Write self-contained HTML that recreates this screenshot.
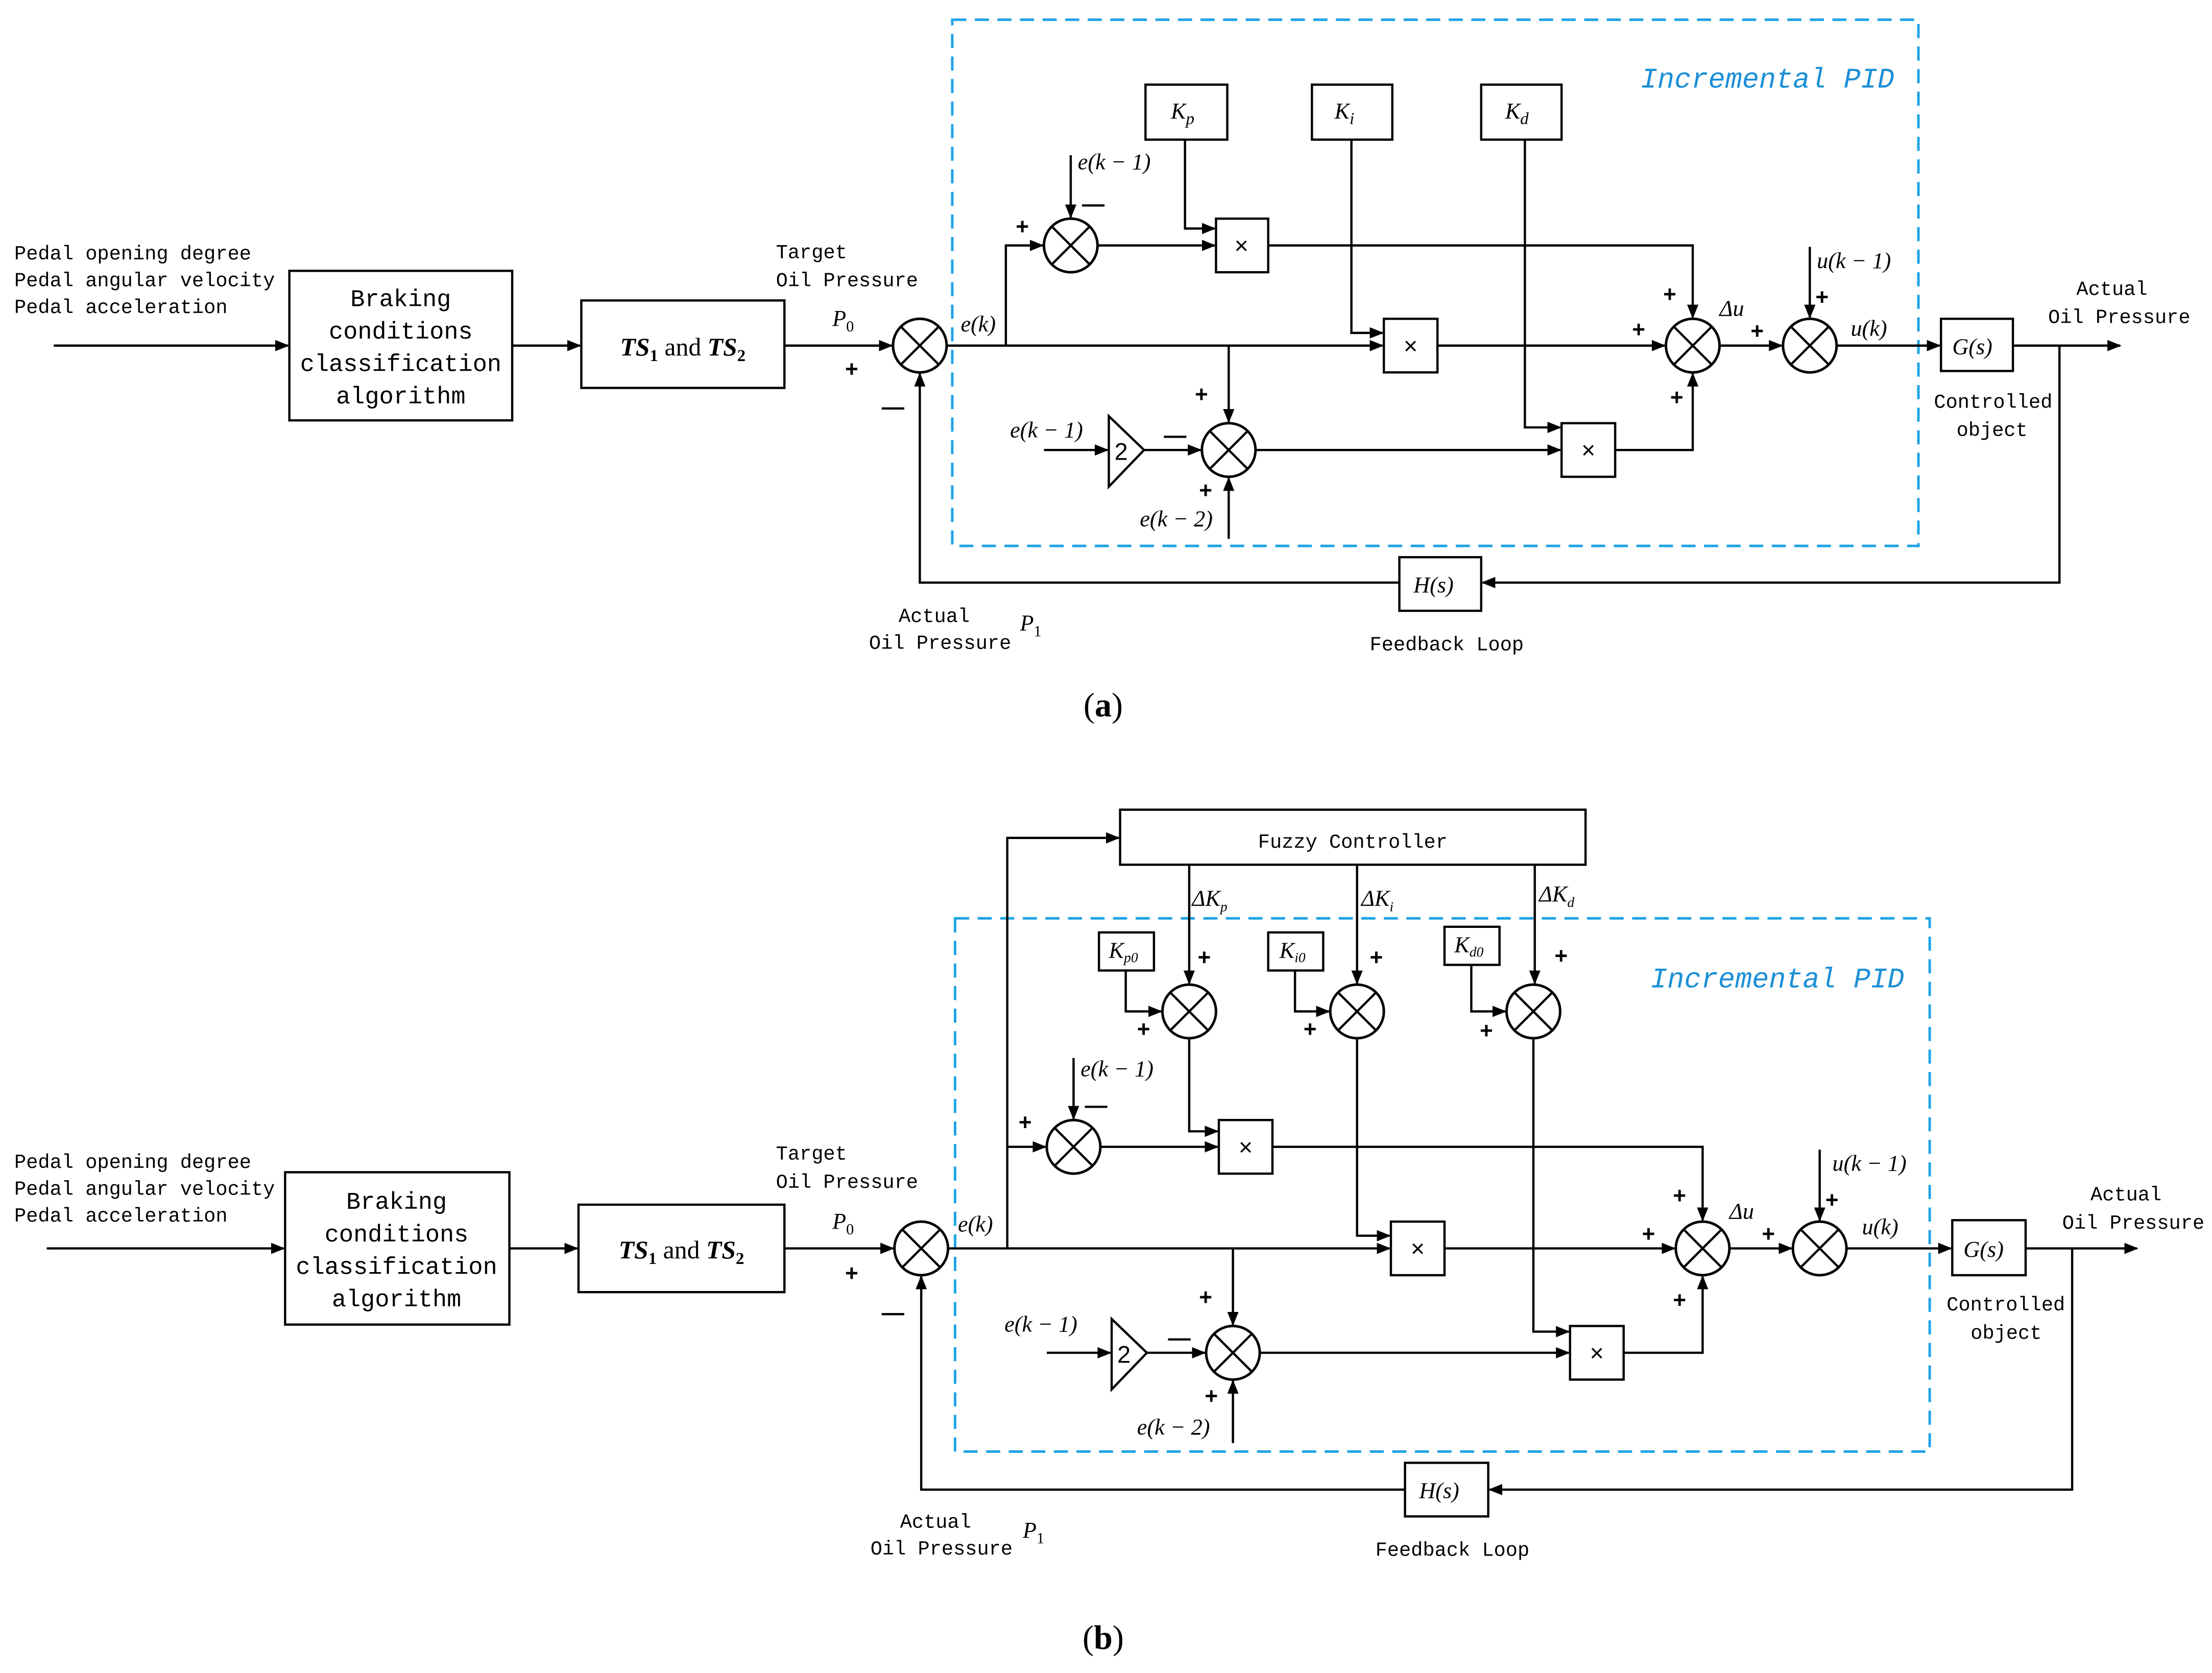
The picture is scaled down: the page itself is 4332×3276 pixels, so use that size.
<!DOCTYPE html>
<html><head><meta charset="utf-8"><style>
html,body{margin:0;padding:0;background:#fff}
svg{display:block}
.m{font-family:"Liberation Mono",monospace;font-size:14px}
.s{font-family:"Liberation Mono",monospace;font-size:17px}
.i{font-family:"Liberation Serif",serif;font-style:italic;font-size:16px}
.p{font-family:"Liberation Sans",sans-serif;font-size:16px;font-weight:bold}
.b{font-family:"Liberation Mono",monospace;font-style:italic;font-size:20px;fill:#1b8fd6}
</style></head><body>
<svg width="4332" height="3276" viewBox="0 0 1568 1186" xmlns="http://www.w3.org/2000/svg">
<defs>
<marker id="a" markerWidth="10" markerHeight="8" refX="9" refY="4" orient="auto" markerUnits="userSpaceOnUse"><path d="M0,0 L10,4 L0,8 z" fill="#000"/></marker>
<g id="c"><circle r="19" fill="#fff" stroke="#000" stroke-width="1.8"/><path d="M-13.4,-13.4 L13.4,13.4 M-13.4,13.4 L13.4,-13.4" stroke="#000" stroke-width="1.6"/></g>
</defs>
<rect width="1568" height="1186" fill="#fff"/>
<g fill="none" stroke="#000" stroke-width="1.6">
<path d="M38,245 H204" marker-end="url(#a)"/>
<rect x="205" y="192" width="158" height="106"/>
<path d="M363,245 H411" marker-end="url(#a)"/>
<rect x="412" y="213" width="144" height="62"/>
<path d="M556,245 H632" marker-end="url(#a)"/>
<rect x="675" y="14" width="685" height="373" stroke="#1fa3e6" stroke-dasharray="10,6" stroke-width="1.8"/>
<path d="M671,245 H980" marker-end="url(#a)"/>
<path d="M713,245 V174 H739" marker-end="url(#a)"/>
<path d="M759,110 V154" marker-end="url(#a)"/>
<path d="M778,174 H861" marker-end="url(#a)"/>
<rect x="812" y="60" width="58" height="39"/>
<rect x="930" y="60" width="57" height="39"/>
<rect x="1050" y="60" width="57" height="39"/>
<rect x="862" y="155" width="37" height="38"/>
<rect x="981" y="226" width="38" height="38"/>
<rect x="1107" y="300" width="38" height="38"/>
<path d="M840,99 V162 H861" marker-end="url(#a)"/>
<path d="M958,99 V236 H980" marker-end="url(#a)"/>
<path d="M1081,99 V303 H1106" marker-end="url(#a)"/>
<path d="M899,174 H1200 V225" marker-end="url(#a)"/>
<path d="M1019,245 H1180" marker-end="url(#a)"/>
<path d="M871,245 V299" marker-end="url(#a)"/>
<path d="M740,319 H785" marker-end="url(#a)"/>
<path d="M786,295 V345 L811,319 Z"/>
<path d="M811,319 H851" marker-end="url(#a)"/>
<path d="M871,382 V339" marker-end="url(#a)"/>
<path d="M890,319 H1106" marker-end="url(#a)"/>
<path d="M1145,319 H1200 V265" marker-end="url(#a)"/>
<path d="M1219,245 H1263" marker-end="url(#a)"/>
<path d="M1283,175 V225" marker-end="url(#a)"/>
<path d="M1302,245 H1375" marker-end="url(#a)"/>
<rect x="1376" y="226" width="51" height="37"/>
<path d="M1427,245 H1503" marker-end="url(#a)"/>
<path d="M1460,245 V413 H1051" marker-end="url(#a)"/>
<rect x="992" y="395" width="58" height="38"/>
<path d="M992,413 H652 V265" marker-end="url(#a)"/>
<path d="M33,885 H201" marker-end="url(#a)"/>
<rect x="202" y="831" width="159" height="108"/>
<path d="M361,885 H409" marker-end="url(#a)"/>
<rect x="410" y="854" width="146" height="62"/>
<path d="M556,885 H633" marker-end="url(#a)"/>
<rect x="794" y="574" width="330" height="39"/>
<rect x="677" y="651" width="691" height="378" stroke="#1fa3e6" stroke-dasharray="10,6" stroke-width="1.8"/>
<path d="M672,885 H985" marker-end="url(#a)"/>
<path d="M714,885 V594 H793" marker-end="url(#a)"/>
<path d="M843,613 V697" marker-end="url(#a)"/>
<path d="M962,613 V697" marker-end="url(#a)"/>
<path d="M1088,613 V697" marker-end="url(#a)"/>
<rect x="779" y="661" width="39" height="27"/>
<rect x="899" y="661" width="39" height="27"/>
<rect x="1024" y="657" width="39" height="27"/>
<path d="M798,688 V717 H823" marker-end="url(#a)"/>
<path d="M918,688 V717 H942" marker-end="url(#a)"/>
<path d="M1043,684 V717 H1067" marker-end="url(#a)"/>
<path d="M714,813 H741" marker-end="url(#a)"/>
<path d="M761,750 V793" marker-end="url(#a)"/>
<path d="M780,813 H863" marker-end="url(#a)"/>
<rect x="864" y="794" width="38" height="38"/>
<path d="M843,736 V802 H863" marker-end="url(#a)"/>
<path d="M902,813 H1207 V865" marker-end="url(#a)"/>
<rect x="986" y="866" width="38" height="38"/>
<path d="M962,736 V876 H985" marker-end="url(#a)"/>
<path d="M1024,885 H1187" marker-end="url(#a)"/>
<path d="M874,885 V939" marker-end="url(#a)"/>
<path d="M742,959 H787" marker-end="url(#a)"/>
<path d="M788,935 V985 L813,959 Z"/>
<path d="M813,959 H854" marker-end="url(#a)"/>
<path d="M874,1023 V979" marker-end="url(#a)"/>
<path d="M893,959 H1112" marker-end="url(#a)"/>
<rect x="1113" y="940" width="38" height="38"/>
<path d="M1087,736 V944 H1112" marker-end="url(#a)"/>
<path d="M1151,959 H1207 V905" marker-end="url(#a)"/>
<path d="M1226,885 H1270" marker-end="url(#a)"/>
<path d="M1290,815 V865" marker-end="url(#a)"/>
<path d="M1309,885 H1383" marker-end="url(#a)"/>
<rect x="1384" y="865" width="52" height="39"/>
<path d="M1436,885 H1515" marker-end="url(#a)"/>
<path d="M1469,885 V1056 H1056" marker-end="url(#a)"/>
<rect x="996" y="1037" width="59" height="38"/>
<path d="M996,1056 H653 V905" marker-end="url(#a)"/>
</g>
<use href="#c" x="652" y="245"/><use href="#c" x="759" y="174"/><use href="#c" x="871" y="319"/>
<use href="#c" x="1200" y="245"/><use href="#c" x="1283" y="245"/>
<use href="#c" x="653" y="885"/><use href="#c" x="761" y="813"/><use href="#c" x="874" y="959"/>
<use href="#c" x="843" y="717"/><use href="#c" x="962" y="717"/><use href="#c" x="1087" y="717"/>
<use href="#c" x="1207" y="885"/><use href="#c" x="1290" y="885"/>
<g fill="#000">
<text class="m" x="10" y="184">Pedal opening degree</text>
<text class="m" x="10" y="203">Pedal angular velocity</text>
<text class="m" x="10" y="222">Pedal acceleration</text>
<g class="s" text-anchor="middle"><text x="284" y="217">Braking</text><text x="284" y="240">conditions</text><text x="284" y="263">classification</text><text x="284" y="286">algorithm</text></g>
<text x="484" y="252" text-anchor="middle" font-family="Liberation Serif" font-size="18"><tspan font-weight="bold" font-style="italic">TS</tspan><tspan font-size="12" dy="4" font-weight="bold">1</tspan><tspan dy="-4"> and </tspan><tspan font-weight="bold" font-style="italic">TS</tspan><tspan font-size="12" dy="4" font-weight="bold">2</tspan></text>
<text class="m" x="550" y="183">Target</text><text class="m" x="550" y="203">Oil Pressure</text>
<text class="i" x="590" y="231">P<tspan font-size="11" font-style="normal" dy="4">0</tspan></text>
<text class="p" x="599" y="267">+</text><text class="p" x="625" y="294">—</text>
<text class="b" x="1163" y="62">Incremental PID</text>
<text class="i" x="681" y="235" font-size="15">e(k)</text>
<text class="p" x="720" y="166">+</text><text class="p" x="767" y="150">—</text>
<text class="i" x="764" y="120" font-size="15">e(k − 1)</text>
<text class="i" x="830" y="84" font-size="18">K<tspan font-size="12" dy="4">p</tspan></text>
<text class="i" x="946" y="84" font-size="18">K<tspan font-size="12" dy="4">i</tspan></text>
<text class="i" x="1067" y="84" font-size="18">K<tspan font-size="12" dy="4">d</tspan></text>
<text x="880" y="180" text-anchor="middle" font-family="Liberation Sans" font-size="17">×</text>
<text x="1000" y="251" text-anchor="middle" font-family="Liberation Sans" font-size="17">×</text>
<text x="1126" y="325" text-anchor="middle" font-family="Liberation Sans" font-size="17">×</text>
<text class="p" x="1179" y="214">+</text><text class="p" x="1157" y="239">+</text><text class="p" x="1184" y="287">+</text>
<text class="p" x="847" y="285">+</text><text class="p" x="825" y="314">—</text><text class="p" x="850" y="353">+</text>
<text class="i" x="716" y="310" font-size="15">e(k − 1)</text>
<text x="790" y="326" font-family="Liberation Sans" font-size="17">2</text>
<text class="i" x="808" y="373" font-size="15">e(k − 2)</text>
<text class="i" x="1219" y="224" font-size="15" font-style="normal">Δ<tspan font-style="italic">u</tspan></text>
<text class="p" x="1241" y="240">+</text><text class="p" x="1287" y="216">+</text>
<text class="i" x="1288" y="190" font-size="15">u(k − 1)</text>
<text class="i" x="1312" y="238" font-size="15">u(k)</text>
<text class="i" x="1384" y="251" font-size="18">G(s)</text>
<text class="m" x="1472" y="209">Actual</text><text class="m" x="1452" y="229">Oil Pressure</text>
<text class="m" x="1371" y="289">Controlled</text><text class="m" x="1387" y="309">object</text>
<text class="i" x="1002" y="420" font-size="18">H(s)</text>
<text class="m" x="637" y="441">Actual</text><text class="m" x="616" y="460">Oil Pressure</text>
<text class="i" x="723" y="447">P<tspan font-size="11" font-style="normal" dy="4">1</tspan></text>
<text class="m" x="971" y="461">Feedback Loop</text>
<text x="782" y="508" text-anchor="middle" font-family="Liberation Serif" font-size="24">(<tspan font-weight="bold">a</tspan>)</text>
<text class="m" x="10" y="828">Pedal opening degree</text>
<text class="m" x="10" y="847">Pedal angular velocity</text>
<text class="m" x="10" y="866">Pedal acceleration</text>
<g class="s" text-anchor="middle"><text x="281" y="857">Braking</text><text x="281" y="880">conditions</text><text x="281" y="903">classification</text><text x="281" y="926">algorithm</text></g>
<text x="483" y="892" text-anchor="middle" font-family="Liberation Serif" font-size="18"><tspan font-weight="bold" font-style="italic">TS</tspan><tspan font-size="12" dy="4" font-weight="bold">1</tspan><tspan dy="-4"> and </tspan><tspan font-weight="bold" font-style="italic">TS</tspan><tspan font-size="12" dy="4" font-weight="bold">2</tspan></text>
<text class="m" x="550" y="822">Target</text><text class="m" x="550" y="842">Oil Pressure</text>
<text class="i" x="590" y="871">P<tspan font-size="11" font-style="normal" dy="4">0</tspan></text>
<text class="p" x="599" y="908">+</text><text class="p" x="625" y="936">—</text>
<text class="m" x="959" y="601" text-anchor="middle" font-size="18">Fuzzy Controller</text>
<text class="b" x="1170" y="700">Incremental PID</text>
<text class="i" x="679" y="873" font-size="15">e(k)</text>
<text class="i" x="845" y="642" font-size="15" font-style="normal">Δ<tspan font-style="italic">K</tspan><tspan font-size="10" font-style="italic" dy="4">p</tspan></text>
<text class="i" x="965" y="642" font-size="15" font-style="normal">Δ<tspan font-style="italic">K</tspan><tspan font-size="10" font-style="italic" dy="4">i</tspan></text>
<text class="i" x="1091" y="639" font-size="15" font-style="normal">Δ<tspan font-style="italic">K</tspan><tspan font-size="10" font-style="italic" dy="4">d</tspan></text>
<text class="i" x="786" y="679" font-size="14">K<tspan font-size="10" dy="3">p0</tspan></text>
<text class="i" x="907" y="679" font-size="14">K<tspan font-size="10" dy="3">i0</tspan></text>
<text class="i" x="1031" y="675" font-size="14">K<tspan font-size="10" dy="3">d0</tspan></text>
<text class="p" x="849" y="684">+</text><text class="p" x="971" y="684">+</text><text class="p" x="1102" y="683">+</text>
<text class="p" x="806" y="735">+</text><text class="p" x="924" y="735">+</text><text class="p" x="1049" y="736">+</text>
<text class="p" x="722" y="801">+</text><text class="p" x="769" y="789">—</text>
<text class="i" x="766" y="763" font-size="15">e(k − 1)</text>
<text x="883" y="819" text-anchor="middle" font-family="Liberation Sans" font-size="17">×</text>
<text x="1005" y="891" text-anchor="middle" font-family="Liberation Sans" font-size="17">×</text>
<text x="1132" y="965" text-anchor="middle" font-family="Liberation Sans" font-size="17">×</text>
<text class="p" x="1186" y="853">+</text><text class="p" x="1164" y="880">+</text><text class="p" x="1186" y="927">+</text>
<text class="p" x="850" y="925">+</text><text class="p" x="828" y="954">—</text><text class="p" x="854" y="995">+</text>
<text class="i" x="712" y="944" font-size="15">e(k − 1)</text>
<text x="792" y="966" font-family="Liberation Sans" font-size="17">2</text>
<text class="i" x="806" y="1017" font-size="15">e(k − 2)</text>
<text class="i" x="1226" y="864" font-size="15" font-style="normal">Δ<tspan font-style="italic">u</tspan></text>
<text class="p" x="1249" y="880">+</text><text class="p" x="1294" y="856">+</text>
<text class="i" x="1299" y="830" font-size="15">u(k − 1)</text>
<text class="i" x="1320" y="875" font-size="15">u(k)</text>
<text class="i" x="1392" y="891" font-size="18">G(s)</text>
<text class="m" x="1482" y="851">Actual</text><text class="m" x="1462" y="871">Oil Pressure</text>
<text class="m" x="1380" y="929">Controlled</text><text class="m" x="1397" y="949">object</text>
<text class="i" x="1006" y="1062" font-size="18">H(s)</text>
<text class="m" x="638" y="1083">Actual</text><text class="m" x="617" y="1102">Oil Pressure</text>
<text class="i" x="725" y="1090">P<tspan font-size="11" font-style="normal" dy="4">1</tspan></text>
<text class="m" x="975" y="1103">Feedback Loop</text>
<text x="782" y="1169" text-anchor="middle" font-family="Liberation Serif" font-size="24">(<tspan font-weight="bold">b</tspan>)</text>
</g>
</svg>
</body></html>
